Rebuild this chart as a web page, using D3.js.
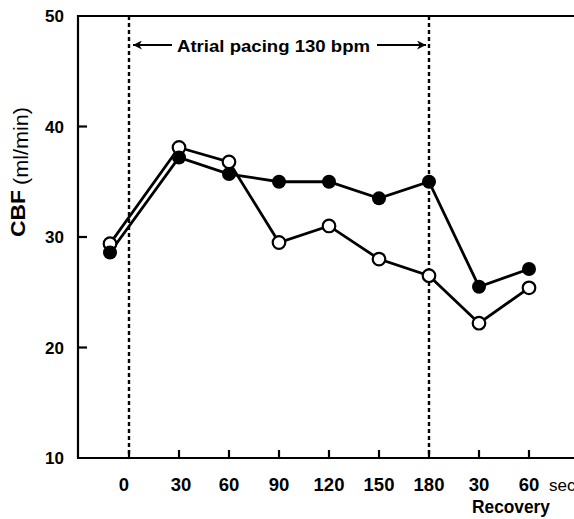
<!DOCTYPE html>
<html><head><meta charset="utf-8">
<script src="https://cdn.jsdelivr.net/npm/d3@7"></script>
<style>body{margin:0;background:#fff}svg{display:block;font-family:"Liberation Sans",Arial,Helvetica,sans-serif}</style>
</head><body><svg id="c" width="574" height="519"></svg>
<script>
// Data
const tickLabels = ["0","30","60","90","120","150","180","30","60"];
const pointIdx = [-0.38, 1, 2, 3, 4, 5, 6, 7, 8];
const filled = [28.6, 37.2, 35.7, 35.0, 35.0, 33.5, 35.0, 25.5, 27.1];
const open   = [29.4, 38.1, 36.8, 29.5, 31.0, 28.0, 26.5, 22.2, 25.4];
const yTicks = [10, 20, 30, 40, 50];
const pacingStartIdx = 0, pacingEndIdx = 6;

const svg = d3.select("#c");
const x = d3.scaleLinear().domain([0, 8]).range([129, 529]);
const y = d3.scaleLinear().domain([10, 50]).range([458, 16]);
const X0 = 78;

// axes frame
svg.append("line").attr("x1", X0).attr("x2", 574).attr("y1", y(50)).attr("y2", y(50)).attr("stroke","#000").attr("stroke-width",2.2);
svg.append("line").attr("x1", X0).attr("x2", 574).attr("y1", y(10)).attr("y2", y(10)).attr("stroke","#000").attr("stroke-width",2.2);
svg.append("line").attr("x1", X0).attr("x2", X0).attr("y1", y(50)-1).attr("y2", y(10)+1).attr("stroke","#000").attr("stroke-width",2.2);

// y ticks
const yax = svg.append("g");
yTicks.forEach(v => {
  if (v !== 10 && v !== 50) yax.append("line").attr("x1", X0).attr("x2", X0+9).attr("y1", y(v)).attr("y2", y(v)).attr("stroke","#000").attr("stroke-width",2.2);
  yax.append("text").attr("x", 64).attr("y", y(v)).attr("dy","0.36em").attr("text-anchor","end")
    .attr("font-size",17).attr("font-weight","bold").text(v);
});

// x ticks
tickLabels.forEach((t,i) => {
  svg.append("line").attr("x1", x(i)).attr("x2", x(i)).attr("y1", y(10)).attr("y2", y(10)-8).attr("stroke","#000").attr("stroke-width",2.2);
  svg.append("text").attr("x", x(i) - (i===0?5:(i===1?-2:0))).attr("y", 491).attr("text-anchor","middle")
    .attr("font-size",18.5).attr("font-weight","bold").text(t);
});
svg.append("text").attr("x", 549).attr("y", 491).attr("font-size",17).text("sec");
svg.append("text").attr("x", 511).attr("y", 513).attr("text-anchor","middle").attr("font-size",18).attr("font-weight","bold")
  .attr("textLength",78).attr("lengthAdjust","spacingAndGlyphs").text("Recovery");

// y label
svg.append("text").attr("transform","translate(25,237) rotate(-90)").attr("text-anchor","start")
  .attr("font-size",20.5).attr("font-weight","bold").attr("textLength",47).attr("lengthAdjust","spacingAndGlyphs").text("CBF");
svg.append("text").attr("transform","translate(27.5,185) rotate(-90)").attr("text-anchor","start")
  .attr("font-size",19.5).attr("textLength",78).attr("lengthAdjust","spacingAndGlyphs").text("(ml/min)");

// dashed pacing lines
[pacingStartIdx, pacingEndIdx].forEach(i => {
  svg.append("line").attr("x1", x(i)).attr("x2", x(i)).attr("y1", y(50)).attr("y2", y(10))
    .attr("stroke","#000").attr("stroke-width",2.4).attr("stroke-dasharray","4,3");
});

// annotation arrows
const defs = svg.append("defs");
defs.append("marker").attr("id","ah").attr("viewBox","0 0 10 10").attr("refX",10).attr("refY",5)
  .attr("markerWidth",13).attr("markerHeight",9).attr("markerUnits","userSpaceOnUse").attr("orient","auto-start-reverse")
  .append("path").attr("d","M0,0 L10,5 L0,10 L3,5 Z").attr("fill","#000");
const ay = 45;
svg.append("line").attr("x1", 172).attr("x2", x(pacingStartIdx)+4).attr("y1", ay).attr("y2", ay).attr("stroke","#000").attr("stroke-width",2).attr("marker-end","url(#ah)");
svg.append("line").attr("x1", 377).attr("x2", x(pacingEndIdx)-3).attr("y1", ay).attr("y2", ay).attr("stroke","#000").attr("stroke-width",2).attr("marker-end","url(#ah)");
svg.append("text").attr("x", 177).attr("y", 52).attr("font-size",17).attr("font-weight","bold")
  .attr("textLength",193).attr("lengthAdjust","spacingAndGlyphs").text("Atrial pacing 130 bpm");

// series
const line = d3.line().x((d,i)=>x(pointIdx[i])).y(d=>y(d));
svg.append("path").attr("d", line(open)).attr("fill","none").attr("stroke","#000").attr("stroke-width",2.8);
svg.append("path").attr("d", line(filled)).attr("fill","none").attr("stroke","#000").attr("stroke-width",2.8);
svg.selectAll(".fo").data(open).enter().append("circle").attr("cx",(d,i)=>x(pointIdx[i])).attr("cy",d=>y(d)).attr("r",6.3)
  .attr("fill","#fff").attr("stroke","#000").attr("stroke-width",2.2);
svg.selectAll(".ff").data(filled).enter().append("circle").attr("cx",(d,i)=>x(pointIdx[i])).attr("cy",d=>y(d)).attr("r",7)
  .attr("fill","#000");
</script></body></html>
